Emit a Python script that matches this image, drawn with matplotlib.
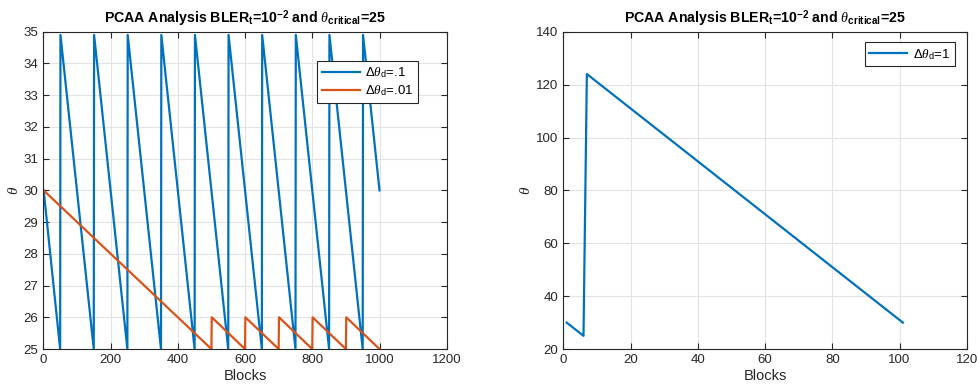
import numpy as np
import matplotlib
matplotlib.use('Agg')
import matplotlib.pyplot as plt

plt.rcParams['font.family'] = ['Liberation Sans', 'DejaVu Sans']
plt.rcParams['mathtext.fontset'] = 'custom'
plt.rcParams['mathtext.rm'] = 'Liberation Sans'
plt.rcParams['mathtext.it'] = 'Liberation Serif:italic'
plt.rcParams['mathtext.bf'] = 'Liberation Sans:bold'

# --- data (sawtooth vertices) ---
blue_x = [1, 50, 51, 150, 151, 250, 251, 350, 351, 450, 451, 550, 551,
          650, 651, 750, 751, 850, 851, 950, 951, 1000]
blue_y = [30, 25, 34.9, 25, 34.9, 25, 34.9, 25, 34.9, 25, 34.9, 25, 34.9,
          25, 34.9, 25, 34.9, 25, 34.9, 25, 34.9, 30]

orange_x = [1, 500, 501, 600, 601, 700, 701, 800, 801, 900, 901, 1000]
orange_y = [30, 25, 26, 25, 26, 25, 26, 25, 26, 25, 26, 25]

right_x = [1, 6, 7, 101]
right_y = [30, 25, 124, 30]

BLUE = '#0072BD'
ORANGE = '#D95319'
AXC = '#262626'

title = r'PCAA Analysis BLER$_\mathbf{t}$=10$^\mathbf{-2}$ and $\theta_\mathbf{critical}$=25'

fig = plt.figure(figsize=(9.78, 3.9), dpi=100)
ax1 = fig.add_axes([0.0443, 0.105, 0.4125, 0.8136])
ax2 = fig.add_axes([0.576, 0.105, 0.4125, 0.8136])


def style(ax):
    ax.grid(True, color='#e3e3e3', linewidth=0.8)
    ax.set_axisbelow(True)
    ax.tick_params(direction='in', top=True, right=True, length=4,
                   labelsize=9.5, colors=AXC, width=0.8)
    for s in ax.spines.values():
        s.set_color(AXC)
        s.set_linewidth(0.8)
    ax.set_xlabel('Blocks', fontsize=10.5, color=AXC, labelpad=2)
    ax.set_ylabel(r'$\theta$', fontsize=11, color=AXC, labelpad=2)
    ax.set_title(title, fontsize=10.2, fontweight='bold', pad=6)


legend_kw = dict(loc='upper right', fontsize=9.5, fancybox=False, framealpha=1,
                 edgecolor=AXC, borderaxespad=0, handlelength=2.9,
                 handletextpad=0.4, labelspacing=0.25, borderpad=0.35)

ax1.plot(blue_x, blue_y, color=BLUE, lw=1.6, label=r'$\Delta\theta_{\rm d}$=.1')
ax1.plot(orange_x, orange_y, color=ORANGE, lw=1.6, label=r'$\Delta\theta_{\rm d}$=.01')
ax1.set_xlim(0, 1200)
ax1.set_ylim(25, 35)
ax1.set_xticks(np.arange(0, 1201, 200))
ax1.set_yticks(np.arange(25, 36, 1))
style(ax1)
leg1 = ax1.legend(bbox_to_anchor=(0.929, 0.908), **legend_kw)
leg1.get_frame().set_linewidth(0.8)

ax2.plot(right_x, right_y, color=BLUE, lw=1.6, label=r'$\Delta\theta_{\rm d}$=1')
ax2.set_xlim(0, 120)
ax2.set_ylim(20, 140)
ax2.set_xticks(np.arange(0, 121, 20))
ax2.set_yticks(np.arange(20, 141, 20))
style(ax2)
leg2 = ax2.legend(bbox_to_anchor=(0.970, 0.967), **legend_kw)
leg2.get_frame().set_linewidth(0.8)

fig.savefig('out.png', dpi=100)
